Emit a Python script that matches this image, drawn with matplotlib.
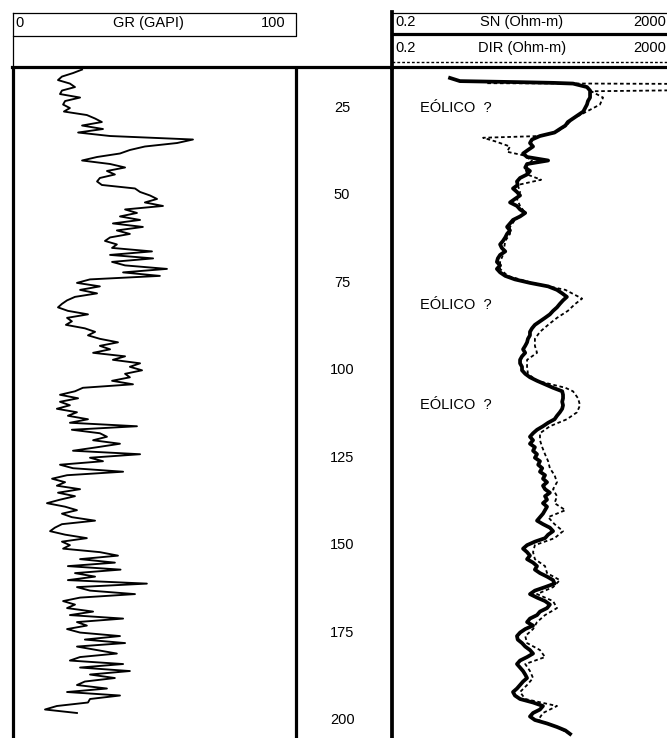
import matplotlib
matplotlib.use('Agg')
import matplotlib.pyplot as plt
import matplotlib.transforms as mtransforms

plt.rcParams['font.family'] = ['Liberation Sans', 'DejaVu Sans']

# GR log (GAPI), one reading per depth unit from 14 to 198
gr_depth = list(range(14, 199))
gr_api = [24.4, 21.2, 17.3, 15.9, 20.1, 21.9, 17.3, 16.6, 23.7, 18.4,
          17.7, 20.1, 18.0, 26.1, 29.0, 31.4, 24.4, 31.8, 23.0, 34.3,
          63.6, 58.0, 46.6, 41.3, 37.8, 29.7, 24.4, 34.3, 39.6, 33.2,
          36.0, 30.7, 29.7, 31.4, 43.1, 44.9, 48.4, 50.9, 46.6, 53.0,
          39.6, 43.8, 37.8, 44.9, 35.3, 45.9, 36.7, 41.3, 34.3, 32.5,
          36.7, 35.0, 49.1, 34.3, 49.5, 35.0, 39.6, 54.4, 38.9, 51.9,
          27.2, 22.6, 30.7, 23.7, 29.7, 21.9, 19.1, 17.3, 15.9, 19.4,
          26.5, 19.1, 20.8, 18.7, 25.4, 29.0, 26.5, 30.7, 37.1, 30.7,
          34.3, 28.3, 39.6, 35.3, 44.9, 41.3, 45.6, 39.6, 41.3, 35.0,
          42.4, 24.7, 21.9, 16.6, 23.0, 16.6, 20.1, 15.5, 22.6, 19.4,
          26.5, 20.1, 43.8, 20.8, 30.7, 33.2, 28.3, 37.8, 29.7, 21.2,
          44.9, 27.2, 31.8, 16.6, 21.2, 38.9, 19.1, 13.8, 18.4, 15.5,
          23.7, 15.9, 21.9, 16.6, 12.0, 18.4, 22.6, 17.3, 20.8, 29.0,
          17.3, 14.8, 13.1, 18.4, 26.1, 17.3, 20.1, 17.7, 30.7, 37.1,
          23.7, 36.0, 19.4, 38.0, 21.9, 29.0, 19.4, 47.3, 22.6, 27.2,
          43.1, 23.7, 17.7, 21.9, 19.1, 28.3, 20.1, 38.9, 22.6, 26.1,
          19.1, 23.7, 37.8, 25.4, 39.6, 22.6, 29.7, 36.7, 23.7, 20.1,
          38.9, 23.7, 41.3, 27.2, 36.0, 25.4, 22.6, 33.2, 19.1, 37.8,
          27.2, 26.5, 15.5, 11.3, 22.6]

# SN resistivity (Ohm-m)
sn_depth = [16.4, 17.3, 17.6, 17.8, 18.0, 18.5, 19] + list(range(20, 205))
sn_ohm = [1.35, 1.87, 13.5, 40, 77, 97, 122,
          135, 135, 135, 126, 122, 115, 108, 91, 77, 65,
          60, 50, 42, 26, 20, 18.7, 20.7, 17.5, 14.9, 17,
          34, 17, 16, 18.7, 17, 13.5, 12.2, 12.5, 10.7, 12.2,
          13.5, 11.4, 9.7, 12.2, 13.5, 16, 13.5, 10.7, 9.7, 8.8,
          9.7, 8.8, 8.3, 7.7, 7.0, 7.4, 8.3, 7.0, 6.5, 6.3,
          7.0, 6.3, 7.0, 8.3, 11.4, 18.7, 34, 45.5, 54, 63,
          55.5, 50, 45.5, 40, 36, 30.7, 26, 22, 20, 18.7,
          18.7, 17.5, 17, 16, 14.9, 16, 14.4, 13.5, 13.5, 14.4,
          14.4, 16, 18.7, 23.6, 30.7, 40, 54, 55.5, 55.5, 54,
          55.5, 54, 50, 45.5, 42, 34, 28.7, 23.6, 20.7, 18.7,
          20.7, 18.7, 22, 20.7, 23.6, 22, 26, 24.5, 28, 26,
          30.7, 28.7, 32.8, 28.7, 30.7, 36, 30.7, 32.8, 28.7, 32.8,
          30.7, 28.7, 26, 23.6, 28.7, 36, 40, 34, 30.7, 22,
          17, 14.9, 17, 18.7, 17, 20.7, 23.6, 22, 26, 32.8,
          40, 42, 30.7, 22, 18.7, 23.6, 30.7, 36, 32.8, 26,
          23.6, 18.7, 17, 20.7, 16, 13.5, 12.2, 12.5, 14.4, 16,
          18.7, 20.7, 17, 13.5, 12.2, 13.5, 14.9, 16, 17, 14.9,
          13.5, 12.2, 10.7, 11.4, 13.5, 20.7, 28.7, 26, 20.7, 18.7,
          22, 32.8, 45.5, 60, 70]

# DIR resistivity (Ohm-m)
dir_depth = [17.9, 18.1, 19.9, 20.2, 22, 24, 25.5, 27, 28, 30, 32, 33,
             33.5, 34.5, 36, 37.5, 38.5, 40, 42, 44, 45.5, 47, 49, 51,
             53, 55, 57, 59, 61, 63, 65, 67, 69, 71, 73, 75, 77, 79.5,
             81, 83, 85, 87, 89, 91, 93, 95, 97, 99, 101, 103, 105, 106,
             108, 110, 112, 114, 116, 118, 120, 122, 124, 126, 128, 130,
             132, 134, 136, 138, 140, 142, 144, 146, 148, 150, 152, 154,
             156, 158, 160, 162, 164, 166, 168, 170, 172, 174, 176, 178,
             180, 182, 184, 186, 188, 190, 192, 194, 196, 198, 200, 202,
             204]
dir_ohm = [4.6, 3000, 3000, 140, 207, 187, 135, 97, 77, 62, 44, 26,
           4.0, 5.9, 9.7, 8.8, 14.9, 20, 16, 17, 27, 12.5, 13.5, 12.2,
           13.5, 16, 11.4, 9.7, 9.7, 8.3, 8.0, 7.7, 7.0, 7.0, 9.0, 20, 60, 104,
           83, 65, 45.5, 34, 26, 22, 22, 23.6, 17, 17, 17.5, 23.6, 60, 77,
           91, 97, 88, 63, 36, 26, 26, 28, 30.7, 34, 36, 42,
           45.5, 40, 45.5, 42, 60, 34, 42, 55.5, 42, 22, 20.7, 22,
           30.7, 32.8, 50, 40, 23.6, 40, 45.5, 30.7, 23.6, 20.7, 16, 17,
           26, 30.7, 16, 18.7, 20.7, 17, 13.5, 16, 45.5, 28.7, 24.5, 45.5,
           70]

depth_ticks = [25, 50, 75, 100, 125, 150, 175, 200]
eolico_depth = [25, 81.3, 110]

W, H = 667, 738
fig = plt.figure(figsize=(W / 100, H / 100), dpi=100)


def px_box(x0, x1, y0, y1):
    return [x0 / W, 1 - y1 / H, (x1 - x0) / W, (y1 - y0) / H]


top_d, bot_d = 13.55, 205.15
ax_gr = fig.add_axes(px_box(13, 296, 68, 738))
ax_dp = fig.add_axes(px_box(296, 392, 68, 738))
ax_rs = fig.add_axes(px_box(392, 672, 68, 738))
for ax in (ax_gr, ax_dp, ax_rs):
    ax.set_ylim(bot_d, top_d)
    ax.set_xticks([])
    ax.set_yticks([])
    ax.patch.set_visible(False)
    for s in ax.spines.values():
        s.set_visible(False)

# GR track
ax_gr.set_xlim(0, 100)
ax_gr.plot(gr_api, gr_depth, color='black', lw=1.35)
for side in ('left', 'right'):
    ax_gr.spines[side].set_visible(True)
    ax_gr.spines[side].set_linewidth(2.3)
    ax_gr.spines[side].set_zorder(4)

# depth track
trans = mtransforms.blended_transform_factory(ax_dp.transAxes, ax_dp.transData)
for d in depth_ticks:
    ax_dp.text(0.48, d, str(d), transform=trans, ha='center', va='center',
               fontsize=10.5)

# resistivity track
ax_rs.set_xscale('log')
ax_rs.set_xlim(0.2, 2000)
ax_rs.minorticks_off()
ax_rs.set_xticks([])
ax_rs.plot(dir_ohm, dir_depth, color='black', lw=1.3, ls=(0, (2, 1.5)))
ax_rs.plot(sn_ohm, sn_depth, color='black', lw=2.7, solid_joinstyle='round')
ax_rs.spines['left'].set_visible(True)
ax_rs.spines['left'].set_linewidth(2.7)
trans_r = mtransforms.blended_transform_factory(ax_rs.transAxes, ax_rs.transData)
for d in eolico_depth:
    ax_rs.text(0.1, d, 'EÓLICO  ?', transform=trans_r, ha='left', va='center',
               fontsize=10.5)

# header
hd = fig.add_axes([0, 0, 1, 1], zorder=5)
hd.set_xlim(0, W)
hd.set_ylim(H, 0)
hd.axis('off')
hd.patch.set_alpha(0)
hd.plot([13, 296, 296, 13, 13], [13, 13, 36, 36, 13], color='black', lw=0.9)
hd.plot([13, 13], [36, 68], color='black', lw=0.9)
hd.plot([12, 667], [67, 67], color='black', lw=2.3)
hd.plot([392, 392], [12, 68], color='black', lw=2.7)
hd.plot([392, 667], [13, 13], color='black', lw=0.9)
hd.plot([392, 667], [34, 34], color='black', lw=2.3)
hd.plot([392, 667], [62, 62], color='black', lw=1.0, ls=(0, (2, 1.5)))

hd.text(15, 23, '0', ha='left', va='center', fontsize=10.5)
hd.text(148, 23, 'GR (GAPI)', ha='center', va='center', fontsize=10.5)
hd.text(285, 23, '100', ha='right', va='center', fontsize=10.5)
for y, name in ((22, 'SN (Ohm-m)'), (48, 'DIR (Ohm-m)')):
    hd.text(395, y, '0.2', ha='left', va='center', fontsize=10.5)
    hd.text(522, y, name, ha='center', va='center', fontsize=10.5)
    hd.text(666, y, '2000', ha='right', va='center', fontsize=10.5)

fig.savefig('out.png', dpi=100)
